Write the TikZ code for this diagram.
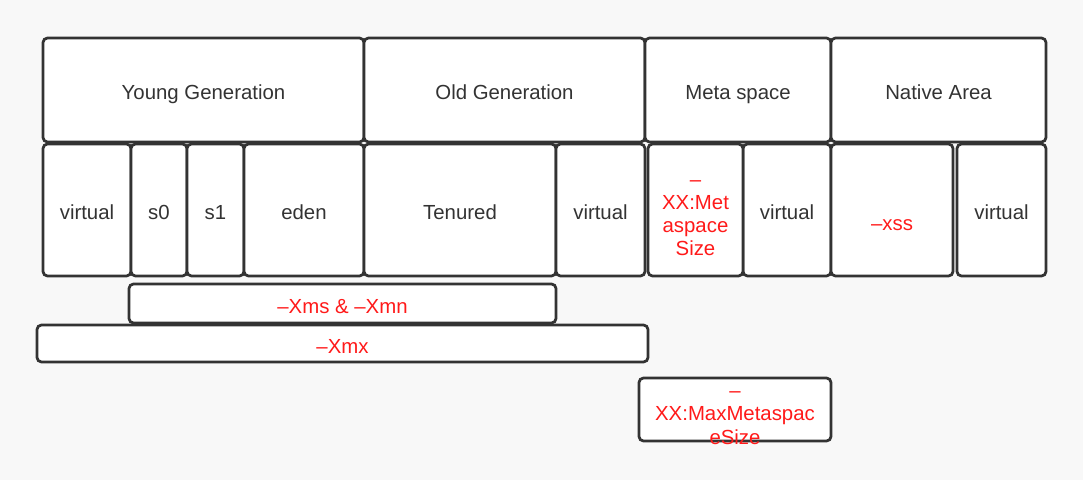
\documentclass[tikz,border=0pt]{standalone}
\usepackage{fontspec}
\setmainfont{Liberation Sans}
\definecolor{pagebg}{HTML}{F8F8F8}
\definecolor{edge}{HTML}{333333}
\definecolor{flag}{HTML}{FF1A1A}
\tikzset{
  blk/.style={draw=edge,fill=white,line width=0.055cm,rounded corners=0.09cm},
  lbl/.style={text=edge,font=\fontsize{11.6}{13.2}\selectfont,align=center,inner sep=0pt,anchor=base},
  opt/.style={lbl,text=flag}
}
\begin{document}
\begin{tikzpicture}[x=0.02cm,y=-0.02cm]

  % grey page, fixes the size
  \fill [pagebg] (0,0) rectangle (1083,480);
  \useasboundingbox (0,0) rectangle (1083,480);

  % memory areas, top row (labels sit on their baseline)
  \foreach \xa/\xb/\nm/\txt in {43/364/young/Young Generation, 364/645/old/Old Generation,
      645/831/meta/Meta space, 831/1046/native/Native Area} {
    \draw [blk] (\xa,38) rectangle (\xb,142);
    \node [lbl] (\nm) at ({(\xa+\xb)/2},99) {\txt};
  }

  % parts of each area
  \foreach \xa/\xb/\nm/\txt in {43/131/yvirt/virtual, 131/187/szero/s0, 187/244/sone/s1,
      244/364/eden/eden, 364/556/tenured/Tenured, 556/645/ovirt/virtual,
      743/831/mvirt/virtual, 957/1046/nvirt/virtual} {
    \draw [blk] (\xa,144) rectangle (\xb,276);
    \node [lbl] (\nm) at ({(\xa+\xb)/2},219) {\txt};
  }
  \draw [blk] (648,144) rectangle (743,276);
  \node [opt,anchor=center] (metasize) at (695.5,218) {–\\XX:Met\\aspace\\Size};
  \draw [blk] (831,144) rectangle (953,276);
  \node [opt] (xss) at (892,230) {–xss};

  % heap options
  \draw [blk] (129,284) rectangle (556,323);
  \node [opt] (xms) at (342.5,313) {–Xms \& –Xmn};
  \draw [blk] (37,325) rectangle (648,362);
  \node [opt] (xmx) at (342.5,353) {–Xmx};

  % metaspace limit, text runs out of the box
  \draw [blk] (639,378) rectangle (831,441);
  \node [opt,anchor=center] (maxmeta) at (735,418) {–\\XX:MaxMetaspac\\eSize};

\end{tikzpicture}
\end{document}
